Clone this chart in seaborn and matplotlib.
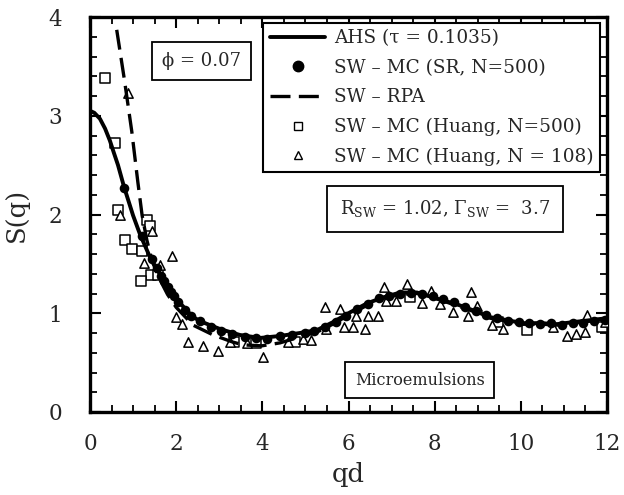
import numpy as np
import pandas as pd
import matplotlib
matplotlib.use("Agg")
import matplotlib.pyplot as plt
from matplotlib.ticker import MultipleLocator
from matplotlib.lines import Line2D
import seaborn as sns

# ---------------- data ----------------
ahs_x = [0.0, 0.1, 0.23, 0.35, 0.46, 0.55, 0.65, 0.79, 1.0, 1.16, 1.39, 1.67, 1.97, 2.37,
         2.55, 3.02, 3.48, 3.95, 4.41, 4.87, 5.27, 5.64, 6.04, 6.43, 6.80, 7.20, 7.59,
         7.96, 8.36, 8.52, 8.89, 9.29, 9.68, 10.05, 10.45, 10.84, 11.21, 11.61, 12.0]
ahs_y = [3.05, 3.03, 2.97, 2.87, 2.75, 2.63, 2.50, 2.28, 1.99, 1.80, 1.57, 1.36, 1.16, 0.97,
         0.92, 0.84, 0.78, 0.75, 0.77, 0.80, 0.83, 0.91, 1.01, 1.10, 1.16, 1.21, 1.21,
         1.16, 1.11, 1.09, 1.03, 0.96, 0.93, 0.90, 0.90, 0.89, 0.91, 0.93, 0.95]

rpa_x = [0.62, 0.80, 0.97, 1.11, 1.21, 1.32, 1.45, 1.60, 1.80, 2.00, 2.39, 2.86, 3.30, 3.55,
         3.99, 4.41, 4.87, 5.27, 5.64, 6.04, 6.43, 6.80, 7.20, 7.59, 7.96, 8.36, 8.89,
         9.29, 9.68, 10.05, 10.45, 10.84, 11.21, 11.61, 12.0]
rpa_y = [3.87, 3.36, 2.84, 2.33, 1.99, 1.74, 1.52, 1.36, 1.19, 1.06, 0.88, 0.78, 0.71, 0.68,
         0.67, 0.70, 0.76, 0.81, 0.89, 0.99, 1.08, 1.15, 1.19, 1.20, 1.16, 1.10, 1.02,
         0.95, 0.92, 0.89, 0.89, 0.88, 0.90, 0.92, 0.94]

sr_x = [0.79, 1.21, 1.45, 1.55, 1.65, 1.72, 1.80, 1.88, 1.95, 2.05, 2.20, 2.35, 2.55, 2.80,
        3.05, 3.30, 3.60, 3.85, 4.10, 4.40, 4.70, 5.00, 5.20, 5.45, 5.70, 5.95, 6.20, 6.45,
        6.70, 6.95, 7.20, 7.45, 7.70, 7.95, 8.20, 8.45, 8.70, 8.95, 9.20, 9.45, 9.70, 9.95,
        10.20, 10.45, 10.70, 10.95, 11.20, 11.45, 11.70, 11.95]
sr_y = [2.27, 1.78, 1.55, 1.46, 1.38, 1.33, 1.27, 1.22, 1.17, 1.11, 1.03, 0.97, 0.92, 0.86,
        0.82, 0.79, 0.76, 0.75, 0.74, 0.77, 0.78, 0.80, 0.82, 0.86, 0.91, 0.97, 1.04, 1.09,
        1.15, 1.17, 1.20, 1.21, 1.20, 1.17, 1.14, 1.11, 1.06, 1.02, 0.98, 0.95, 0.92, 0.91,
        0.90, 0.89, 0.90, 0.88, 0.90, 0.90, 0.92, 0.93]

hu500_x = [0.35, 0.58, 0.65, 0.81, 0.97, 1.21, 1.32, 1.39, 1.42, 1.58, 1.18, 3.34, 3.85,
           4.76, 7.43, 9.47, 10.14, 11.88]
hu500_y = [3.38, 2.72, 2.05, 1.74, 1.65, 1.63, 1.94, 1.88, 1.39, 1.39, 1.33, 0.71, 0.70,
           0.71, 1.16, 0.91, 0.83, 0.86]

hu108_x = [0.88, 0.70, 1.44, 1.90, 1.25, 1.62, 2.00, 2.14, 2.27, 2.62, 2.97, 3.25, 3.64,
           4.02, 4.60, 4.94, 5.13, 5.46, 5.80, 5.48, 5.90, 6.10, 6.38, 6.17, 6.45, 6.69,
           6.87, 6.82, 7.36, 7.10, 7.71, 7.92, 8.12, 8.43, 8.77, 8.84, 8.98, 9.33, 9.59,
           10.75, 11.07, 11.28, 11.49, 11.54, 11.95]
hu108_y = [3.23, 1.99, 1.83, 1.58, 1.51, 1.49, 0.96, 0.89, 0.71, 0.67, 0.62, 0.71, 0.70,
           0.56, 0.71, 0.74, 0.73, 1.06, 1.04, 0.84, 0.86, 0.86, 0.84, 0.97, 0.97, 0.97,
           1.12, 1.27, 1.30, 1.12, 1.10, 1.23, 1.09, 1.01, 0.97, 1.22, 1.07, 0.88, 0.84,
           0.86, 0.77, 0.79, 0.81, 0.98, 0.91]

x_ticks = [0, 2, 4, 6, 8, 10, 12]
y_ticks = [0, 1, 2, 3, 4]

# ---------------- style ----------------
sns.set_theme(style="ticks")
plt.rcParams['font.family'] = ['DejaVu Serif', 'DejaVu Sans']
plt.rcParams['mathtext.fontset'] = 'dejavuserif'

fig = plt.figure(figsize=(6.24, 4.95), dpi=100)
ax = fig.add_axes([90/624, 1 - 412/495, 517/624, 395/495])

ahs = pd.DataFrame({"qd": ahs_x, "S": ahs_y})
rpa = pd.DataFrame({"qd": rpa_x, "S": rpa_y})
sr = pd.DataFrame({"qd": sr_x, "S": sr_y})
h5 = pd.DataFrame({"qd": hu500_x, "S": hu500_y})
h1 = pd.DataFrame({"qd": hu108_x, "S": hu108_y})

sns.scatterplot(data=h5, x="qd", y="S", ax=ax, marker="s", s=45, facecolor="white",
                edgecolor="black", linewidth=1.1, zorder=3, legend=False)
sns.scatterplot(data=h1, x="qd", y="S", ax=ax, marker="^", s=45, facecolor="white",
                edgecolor="black", linewidth=1.1, zorder=3, legend=False)
sns.lineplot(data=rpa, x="qd", y="S", ax=ax, color="black", linewidth=2.4,
             sort=False, zorder=4)
ax.lines[-1].set_dashes([6, 2.5])
sns.lineplot(data=ahs, x="qd", y="S", ax=ax, color="black", linewidth=2.8, sort=False, zorder=5)
sns.scatterplot(data=sr, x="qd", y="S", ax=ax, marker="o", s=48, color="black",
                edgecolor="black", linewidth=0, zorder=6, legend=False)

ax.set_xlim(0, 12)
ax.set_ylim(0, 4)
ax.set_xticks(x_ticks)
ax.set_yticks(y_ticks)
ax.xaxis.set_minor_locator(MultipleLocator(0.5))
ax.yaxis.set_minor_locator(MultipleLocator(0.2))
ax.tick_params(which="both", direction="in", top=True, right=True, color="black")
ax.tick_params(which="major", length=8, width=1.5, labelsize=15.5)
ax.tick_params(axis="x", which="major", pad=15)
ax.tick_params(axis="y", which="major", pad=20)
ax.tick_params(which="minor", length=5, width=1.3)
for sp in ax.spines.values():
    sp.set_linewidth(2.4)
    sp.set_color("black")
ax.set_xlabel("qd", fontsize=18.5, labelpad=5)
ax.set_ylabel("S(q)", fontsize=18.5, labelpad=14)

handles = [
    Line2D([], [], color="black", lw=2.8),
    Line2D([], [], color="black", lw=0, marker="o", markersize=7.5),
    Line2D([], [], color="black", lw=2.4, dashes=[6, 2.5]),
    Line2D([], [], color="black", lw=0, marker="s", markersize=5.5, markerfacecolor="white",
           markeredgewidth=1.0),
    Line2D([], [], color="black", lw=0, marker="^", markersize=5.5, markerfacecolor="white",
           markeredgewidth=1.0),
]
labels = ["AHS (τ = 0.1035)", "SW – MC (SR, N=500)", "SW – RPA",
          "SW – MC (Huang, N=500)", "SW – MC (Huang, N = 108)"]
leg = ax.legend(handles, labels, loc="upper right", bbox_to_anchor=(0.986, 0.985),
                borderaxespad=0, fontsize=13.3, frameon=True, fancybox=False,
                handlelength=3.0, handletextpad=0.45, labelspacing=0.62,
                borderpad=0.35)
leg.get_frame().set_edgecolor("black")
leg.get_frame().set_linewidth(1.5)
leg.get_frame().set_alpha(1)

box = dict(boxstyle="square,pad=0.55", facecolor="white", edgecolor="black", linewidth=1.3)
ax.text(0.215, 0.889, "ϕ = 0.07", transform=ax.transAxes, fontsize=13,
        ha="center", va="center", bbox=box, zorder=7)
ax.text(0.687, 0.514, r"R$_{\rm SW}$ = 1.02, Γ$_{\rm SW}$ =  3.7", transform=ax.transAxes,
        fontsize=13, ha="center", va="center", bbox=dict(boxstyle="square,pad=0.7",
        facecolor="white", edgecolor="black", linewidth=1.3), zorder=7)
ax.text(0.638, 0.081, "Microemulsions", transform=ax.transAxes, fontsize=11.5,
        ha="center", va="center", bbox=dict(boxstyle="square,pad=0.6",
        facecolor="white", edgecolor="black", linewidth=1.3), zorder=7)

fig.savefig("out.png", dpi=100)
